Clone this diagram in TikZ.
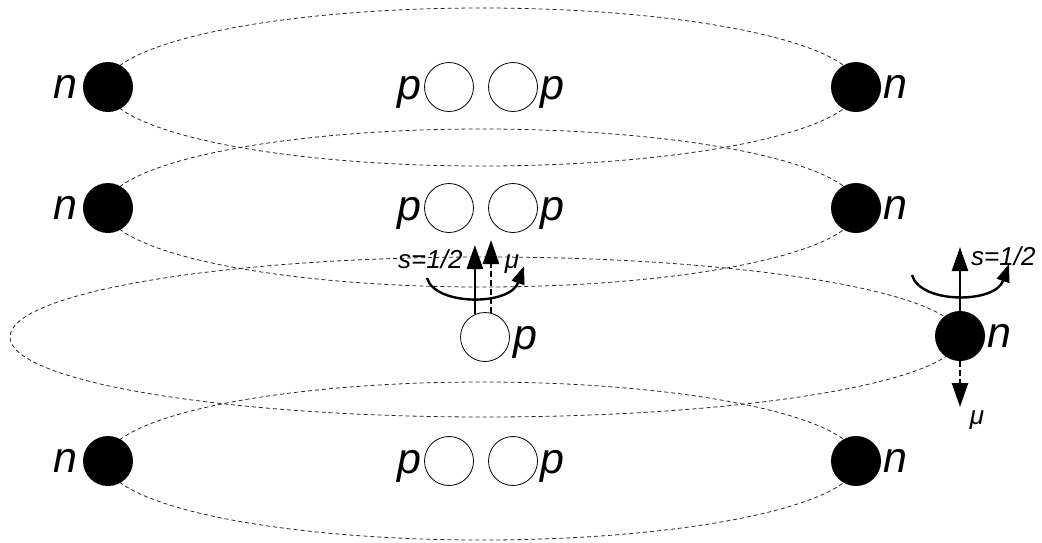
\documentclass[tikz,border=0pt]{standalone}
\usepackage{fontspec}
\setmainfont{Liberation Sans}
\usetikzlibrary{arrows.meta,calc}

\begin{document}
\begin{tikzpicture}[x=1pt,y=-1pt,
  orbit/.style={draw=black!85, line width=0.8pt, dash pattern=on 4pt off 3pt},
  neutron/.style={circle, fill=black, minimum size=50pt, inner sep=0pt},
  proton/.style={circle, draw=black, fill=white, line width=0.8pt, minimum size=49pt, inner sep=0pt},
  lab/.style={font=\fontsize{43}{43}\selectfont\itshape, inner sep=0pt},
  small/.style={font=\fontsize{26}{26}\selectfont\itshape, inner sep=0pt},
  spin/.style={line width=2.6pt, -{Triangle[length=24pt,width=16pt]}},
  moment/.style={spin, dash pattern=on 6pt off 3pt},
  twist/.style={line width=2.4pt, -{Triangle[length=18pt,width=13pt]}}
]
\useasboundingbox (0,0) rectangle (1042,542);

% orbits
\foreach \y in {87,208,461}{
  \draw[orbit] (482,\y) ellipse [x radius=376pt, y radius=79pt];
}
\draw[orbit] (485,337) ellipse [x radius=475pt, y radius=80pt];

% paired nucleons
\foreach \r/\y in {1/87,2/208,4/461}{
  \node[neutron] (nl\r) at (108,\y) {};
  \node[neutron] (nr\r) at (856,\y) {};
  \node[proton]  (pl\r) at (449,\y) {};
  \node[proton]  (pr\r) at (513,\y) {};
  \node[lab, anchor=base east] (nlt\r) at ([xshift=-5pt,yshift=-11pt]nl\r.west) {n};
  \node[lab, anchor=base west] (nrt\r) at ([xshift=2pt,yshift=-11pt]nr\r.east) {n};
  \node[lab, anchor=base east] (plt\r) at ([xshift=-2pt,yshift=-12pt]pl\r.west) {p};
  \node[lab, anchor=base west] (prt\r) at ([xshift=2pt,yshift=-12pt]pr\r.east) {p};
}

% unpaired nucleons
\node[proton]  (p3) at (485,337) {};
\node[neutron] (n3) at (960,336) {};
\node[lab, anchor=base west] (p3t) at ([xshift=3pt,yshift=-12pt]p3.east) {p};
\node[lab, anchor=base west] (n3t) at ([xshift=2pt,yshift=-11pt]n3.east) {n};

% proton spin and magnetic moment
\coordinate (psTip) at (475,245);
\coordinate (pmTip) at (491,240);
\coordinate (pc0) at (427,278);
\coordinate (pc1) at (524,266);
\draw[twist] (pc0) .. controls (435,306) and (510,306) .. (pc1);
\draw[spin] (p3.114) -- (p3.114 |- psTip);
\draw[moment] (p3.76) -- (p3.76 |- pmTip);
\node[small, anchor=base west] (psl) at (398,268) {s=1/2};
\node[small] (pml) at (512,264) {μ};

% neutron spin and magnetic moment
\coordinate (nsTip) at (960,247);
\coordinate (nmTip) at (960,407);
\coordinate (nc0) at (912,275);
\coordinate (nc1) at (1009,264);
\draw[twist] (nc0) .. controls (920,304) and (995,304) .. (nc1);
\draw[spin] (n3.north) -- (nsTip);
\draw[moment] (n3.south) -- (nmTip);
\node[small, anchor=base west] (nsl) at (971,265) {s=1/2};
\node[small] (nml) at (977,420) {μ};
\end{tikzpicture}
\end{document}
